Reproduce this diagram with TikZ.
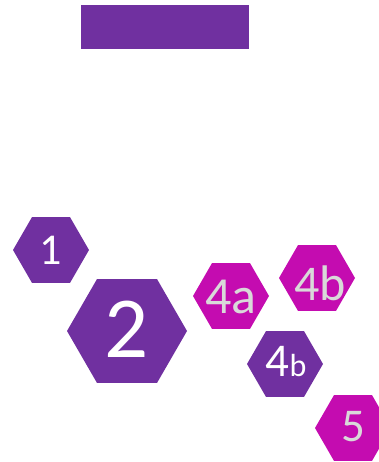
\documentclass[tikz,border=0pt]{standalone}
\usepackage{fontspec}
\setmainfont{Carlito}
\usetikzlibrary{shapes.geometric}
\definecolor{lila}{HTML}{7030A0}
\definecolor{magenta2}{HTML}{C40CB0}
\definecolor{hellgrau}{HTML}{D9D9D9}
\begin{document}
\begin{tikzpicture}[x=1pt,y=-1pt]
	\tikzset{waben/.style={regular polygon,regular polygon sides=6,inner sep=0pt,minimum size=76pt},
		zahl/.style={font=\fontsize{#1}{#1}\selectfont}}
	\clip (0,0) rectangle (379,462);
	\useasboundingbox (0,0) rectangle (379,462);
	
	% Balken oben
	\node[fill=lila,minimum width=168pt,minimum height=44pt,inner sep=0pt] (balken) at (165,27) {};
	
	% Waben
	\node[waben,fill=lila,label={[zahl=44,text=white]center:1}] (w1) at (51,250) {};
	\node[waben,fill=lila,minimum size=120pt,label={[zahl=87,text=white,yshift=2pt]center:2}] (w2) at (127,331) {};
	\node[waben,fill=magenta2,label={[zahl=52,text=hellgrau,yshift=-1pt]center:4a}] (w4a) at (231,296) {};
	\node[waben,fill=magenta2,label={[zahl=50,text=hellgrau,xshift=3pt,yshift=-5pt]center:4b}] (w4b) at (317,278) {};
	\node[waben,fill=lila,label={[zahl=47,text=white,xshift=1pt,yshift=2pt]center:4\fontsize{32}{32}\selectfont b}] (w4b2) at (285,364) {};
	\node[waben,fill=magenta2,label={[zahl=47,text=hellgrau,yshift=1pt]center:5}] (w5) at (353,428) {};
\end{tikzpicture}
\end{document}
